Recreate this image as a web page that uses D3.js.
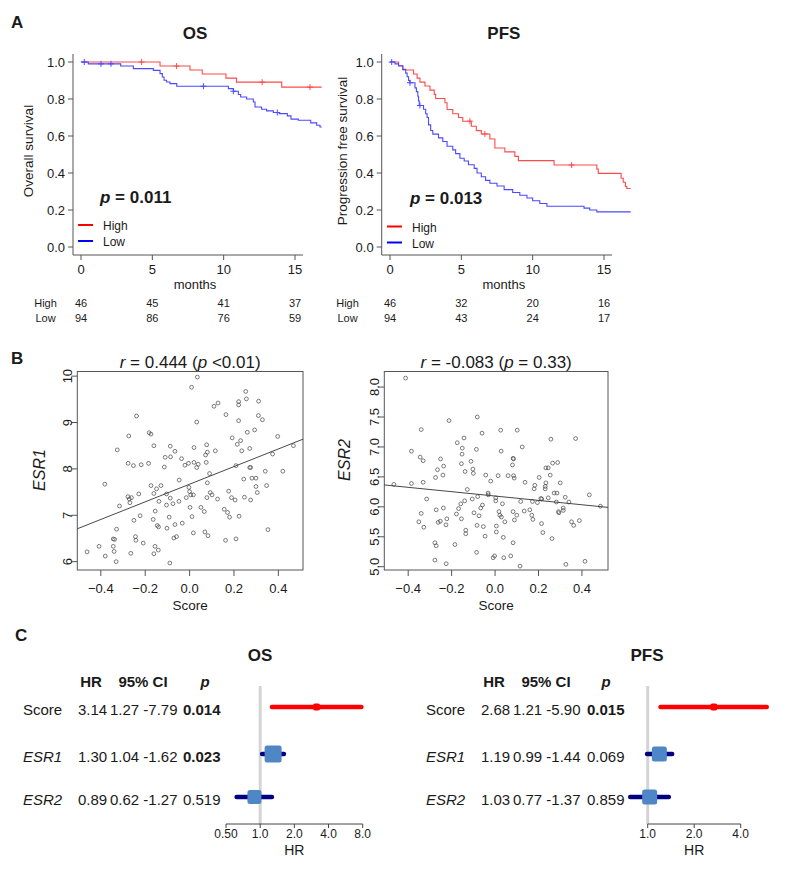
<!DOCTYPE html>
<html><head><meta charset="utf-8">
<script src="https://cdn.jsdelivr.net/npm/d3@7"></script>
<style>body{margin:0;background:#fff} svg{display:block} text{font-family:"Liberation Sans",Arial,Helvetica,sans-serif;fill:#1a1a1a}</style>
</head><body><svg id="c" width="788" height="870"></svg>
<script>
// ---------- Panel A: Kaplan-Meier data (step times in months, survival after step) ----------
const osHighTimes = [0, 5.54, 7.64, 8.5, 10.16, 10.9, 14.07];
const osHighSurv  = [1.0, 0.978, 0.957, 0.935, 0.913, 0.891, 0.864];
const osHighCens  = [4.25, 6.7, 12.7, 16.05];
const osLowTimes  = [0, 0.51, 2.78, 3.67, 5.07, 5.54, 5.70, 5.82, 6.0, 6.24, 6.71, 10.33, 10.68, 11.03, 11.19, 11.61, 12.08, 12.2, 12.66, 13.01, 13.48, 13.9, 14.46, 14.72, 15.23, 16.1, 16.52, 16.75];
const osLowSurv   = [1.0, 0.99, 0.978, 0.964, 0.955, 0.937, 0.919, 0.901, 0.892, 0.883, 0.869, 0.856, 0.842, 0.824, 0.811, 0.8, 0.784, 0.757, 0.745, 0.736, 0.727, 0.721, 0.709, 0.691, 0.685, 0.671, 0.658, 0.649];
const osLowCens   = [0.23, 1.4, 2.1, 8.58, 10.68, 13.76];
const pfsHighTimes = [0, 0.6, 0.9, 1.65, 1.9, 2.1, 2.45, 2.8, 3.1, 3.2, 3.85, 4.0, 4.4, 4.8, 5.1, 5.7, 6.05, 6.4, 7.0, 7.35, 8.05, 8.75, 9.0, 11.5, 14.5, 14.6, 16.2, 16.35, 16.5, 16.6];
const pfsHighSurv  = [1.0, 0.978, 0.957, 0.935, 0.913, 0.891, 0.870, 0.848, 0.825, 0.803, 0.78, 0.743, 0.72, 0.70, 0.68, 0.653, 0.629, 0.611, 0.584, 0.535, 0.514, 0.49, 0.467, 0.443, 0.421, 0.398, 0.372, 0.35, 0.327, 0.316];
const pfsHighCens  = [5.6, 6.65, 12.73];
const pfsLowTimes  = [0, 0.35, 0.6, 0.9, 1.1, 1.2, 1.3, 1.4, 1.75, 1.85, 1.95, 2.0, 2.05, 2.35, 2.5, 2.6, 2.7, 2.85, 3.0, 3.4, 3.7, 4.0, 4.4, 4.6, 4.9, 5.2, 5.5, 5.9, 6.1, 6.4, 6.7, 7.0, 7.5, 8.0, 8.6, 9.1, 9.6, 10.0, 10.5, 11.0, 13.6, 14.0, 14.5];
const pfsLowSurv   = [1.0, 0.99, 0.98, 0.96, 0.94, 0.92, 0.90, 0.888, 0.86, 0.84, 0.815, 0.79, 0.765, 0.745, 0.72, 0.70, 0.66, 0.63, 0.61, 0.59, 0.57, 0.545, 0.525, 0.505, 0.48, 0.465, 0.445, 0.425, 0.40, 0.38, 0.36, 0.345, 0.33, 0.31, 0.295, 0.28, 0.265, 0.25, 0.235, 0.22, 0.21, 0.20, 0.19];
const pfsLowCens   = [0.12, 1.4, 2.1];
const kmEnd = 16.87;
const kmXTicks = [0, 5, 10, 15];
const kmYTicks = [0.0, 0.2, 0.4, 0.6, 0.8, 1.0];
const riskTimes = [0, 5, 10, 15];
const osRiskHigh = [46, 45, 41, 37];
const osRiskLow  = [94, 86, 76, 59];
const pfsRiskHigh = [46, 32, 20, 16];
const pfsRiskLow  = [94, 43, 24, 17];

// ---------- Panel B: scatter data [score, expression] ----------
const esr1Points = [[-0.462,6.21],[-0.408,6.33],[-0.382,7.67],[-0.380,6.12],[-0.326,8.41],[-0.316,7.20],[-0.329,6.70],[-0.344,6.49],[-0.338,6.48],[-0.344,6.33],[-0.340,6.22],[-0.331,6.00],[-0.277,8.12],[-0.274,8.71],[-0.278,7.40],[-0.272,7.35],[-0.269,7.27],[-0.262,7.38],[-0.253,8.07],[-0.251,6.89],[-0.265,6.18],[-0.239,9.14],[-0.244,6.54],[-0.242,6.46],[-0.229,7.46],[-0.223,6.99],[-0.218,8.09],[-0.209,6.40],[-0.182,8.78],[-0.174,8.75],[-0.185,8.12],[-0.174,7.64],[-0.161,8.50],[-0.161,7.47],[-0.164,6.91],[-0.155,7.09],[-0.156,6.33],[-0.161,6.17],[-0.141,6.25],[-0.149,7.57],[-0.146,6.78],[-0.140,6.75],[-0.138,7.30],[-0.129,7.64],[-0.114,8.04],[-0.110,8.25],[-0.104,7.22],[-0.102,6.72],[-0.104,7.46],[-0.087,8.49],[-0.086,8.26],[-0.087,7.37],[-0.092,6.96],[-0.089,5.97],[-0.075,7.25],[-0.066,8.38],[-0.066,6.80],[-0.071,6.51],[-0.059,6.54],[-0.048,7.30],[-0.047,7.76],[-0.036,8.22],[-0.033,6.83],[-0.021,8.08],[-0.015,7.38],[-0.003,7.60],[-0.005,8.12],[0.000,7.51],[0.005,7.44],[0.002,7.17],[0.009,9.76],[0.011,6.97],[0.017,7.44],[0.020,8.46],[0.020,8.14],[0.017,6.62],[0.032,8.03],[0.032,9.01],[0.035,9.98],[0.039,8.10],[0.051,7.17],[0.066,7.08],[0.069,6.64],[0.075,8.14],[0.077,8.52],[0.072,8.30],[0.080,8.36],[0.078,7.38],[0.080,7.70],[0.083,6.56],[0.090,7.90],[0.093,7.49],[0.101,7.44],[0.110,9.35],[0.116,8.39],[0.128,9.42],[0.126,7.35],[0.156,7.13],[0.164,9.17],[0.162,6.46],[0.171,7.06],[0.176,7.52],[0.180,6.96],[0.192,8.67],[0.189,7.38],[0.205,7.33],[0.209,8.07],[0.209,6.49],[0.215,8.53],[0.221,9.04],[0.221,9.45],[0.221,9.38],[0.223,6.98],[0.230,8.61],[0.235,8.39],[0.244,7.78],[0.247,7.39],[0.253,9.67],[0.256,9.51],[0.260,8.79],[0.271,8.44],[0.275,8.03],[0.271,8.03],[0.275,7.33],[0.281,7.80],[0.293,8.84],[0.299,7.80],[0.299,7.62],[0.305,7.49],[0.311,9.46],[0.310,9.15],[0.328,9.06],[0.341,7.95],[0.347,7.64],[0.353,6.69],[0.374,8.32],[0.397,8.70],[0.420,7.95],[0.468,8.50]];
const esr2Points = [[-0.466,6.375],[-0.412,8.15],[-0.385,6.93],[-0.385,6.39],[-0.351,5.75],[-0.345,6.83],[-0.340,7.29],[-0.340,5.89],[-0.331,6.77],[-0.331,6.41],[-0.328,5.66],[-0.315,6.13],[-0.277,5.40],[-0.271,5.35],[-0.277,5.11],[-0.271,5.95],[-0.274,6.49],[-0.265,6.62],[-0.262,5.74],[-0.252,5.76],[-0.251,6.80],[-0.240,6.53],[-0.237,6.68],[-0.238,5.98],[-0.226,5.70],[-0.222,5.80],[-0.225,5.05],[-0.212,7.44],[-0.185,5.37],[-0.178,5.88],[-0.174,7.07],[-0.168,5.97],[-0.158,6.05],[-0.155,5.80],[-0.155,6.72],[-0.152,6.88],[-0.151,6.98],[-0.143,7.15],[-0.140,6.10],[-0.138,6.59],[-0.135,5.61],[-0.135,5.55],[-0.128,6.29],[-0.111,6.76],[-0.105,6.13],[-0.102,6.63],[-0.100,6.56],[-0.097,5.90],[-0.086,6.96],[-0.085,5.24],[-0.083,5.69],[-0.080,6.17],[-0.082,7.50],[-0.074,5.85],[-0.066,5.98],[-0.060,7.23],[-0.058,6.03],[-0.054,5.67],[-0.046,5.51],[-0.043,6.53],[-0.032,6.23],[-0.031,6.20],[-0.020,6.43],[-0.009,5.15],[-0.002,5.18],[0.003,6.10],[0.006,5.68],[0.006,5.58],[0.003,6.15],[0.014,6.52],[0.018,5.92],[0.022,5.86],[0.026,7.28],[0.028,6.93],[0.029,5.83],[0.034,6.05],[0.038,5.49],[0.040,5.15],[0.045,5.75],[0.060,6.52],[0.072,5.18],[0.080,6.70],[0.083,6.81],[0.085,6.80],[0.083,5.92],[0.085,6.52],[0.088,6.48],[0.083,5.40],[0.089,5.78],[0.100,5.86],[0.102,7.28],[0.115,5.01],[0.118,6.09],[0.125,7.00],[0.134,5.93],[0.138,6.41],[0.160,5.95],[0.169,5.86],[0.172,6.09],[0.174,5.79],[0.180,6.30],[0.183,6.36],[0.195,6.07],[0.203,6.49],[0.211,6.14],[0.214,5.72],[0.215,6.13],[0.220,5.57],[0.231,6.30],[0.231,6.34],[0.234,6.40],[0.234,6.65],[0.245,6.65],[0.245,6.15],[0.254,6.53],[0.257,7.13],[0.262,5.47],[0.265,6.73],[0.272,6.23],[0.282,6.08],[0.285,6.23],[0.288,6.74],[0.292,5.92],[0.294,5.90],[0.300,6.40],[0.314,5.94],[0.314,5.98],[0.323,6.16],[0.326,5.04],[0.340,6.08],[0.352,5.75],[0.362,5.69],[0.371,7.14],[0.388,5.77],[0.414,5.09],[0.434,6.20],[0.485,6.01]];
const esr1Fit = [7.67, 1.90];   // intercept, slope
const esr2Fit = [6.18, -0.364];
const scoreTicks = [-0.4, -0.2, 0.0, 0.2, 0.4];
const esr1Ticks = [6, 7, 8, 9, 10];
const esr2Ticks = [5.0, 5.5, 6.0, 6.5, 7.0, 7.5, 8.0];

// ---------- Panel C: forest data ----------
const forestVars = ["Score", "ESR1", "ESR2"];
const osHR = [3.14, 1.30, 0.89], osLo = [1.27, 1.04, 0.62], osHi = [7.79, 1.62, 1.27], osP = ["0.014", "0.023", "0.519"];
const pfsHR = [2.68, 1.19, 1.03], pfsLo = [1.21, 0.99, 0.77], pfsHi = [5.90, 1.44, 1.37], pfsP = ["0.015", "0.069", "0.859"];
const osHRTicks = [0.5, 1, 2, 4, 8], osHRLabels = ["0.50", "1.0", "2.0", "4.0", "8.0"];
const pfsHRTicks = [1, 2, 4], pfsHRLabels = ["1.0", "2.0", "4.0"];

// =====================================================================
const svg = d3.select("#c");
const AX = "#555";
function txt(g, x, y, s, size, opts = {}) {
  const t = g.append("text").attr("x", x).attr("y", y).attr("font-size", size)
    .attr("text-anchor", opts.anchor || "start").text(s);
  if (opts.bold) t.attr("font-weight", "bold");
  if (opts.italic) t.attr("font-style", "italic");
  if (opts.dy) t.attr("dy", opts.dy);
  return t;
}

// Panel letters
txt(svg, 11, 28, "A", 17, {bold: true});
txt(svg, 11, 364, "B", 17, {bold: true});
txt(svg, 15, 641, "C", 17, {bold: true});

// ---------- KM panel ----------
function kmPanel(o) {
  const g = svg.append("g");
  const x = d3.scaleLinear().domain([0, 15]).range([o.x0, o.x15]);
  const y = d3.scaleLinear().domain([0, 1]).range([247, 62]);
  // title
  txt(g, (o.axisX + o.axisRight) / 2 + 7, 39, o.title, 17, {bold: true, anchor: "middle"});
  // left axis
  g.append("line").attr("x1", o.axisX).attr("x2", o.axisX).attr("y1", 54).attr("y2", 255).attr("stroke", AX);
  kmYTicks.forEach(v => {
    g.append("line").attr("x1", o.axisX - 5).attr("x2", o.axisX).attr("y1", y(v)).attr("y2", y(v)).attr("stroke", AX);
    txt(g, o.axisX - 8, y(v), d3.format(".1f")(v), 13, {anchor: "end", dy: "0.35em"});
  });
  // bottom axis
  g.append("line").attr("x1", o.axisX).attr("x2", o.axisRight).attr("y1", 255).attr("y2", 255).attr("stroke", AX);
  kmXTicks.forEach(v => {
    g.append("line").attr("x1", x(v)).attr("x2", x(v)).attr("y1", 255).attr("y2", 260).attr("stroke", AX);
    txt(g, x(v), 274, String(v), 13, {anchor: "middle"});
  });
  txt(g, (o.axisX + o.axisRight) / 2 + 7, 289, "months", 13, {anchor: "middle"});
  // y label
  txt(g, 0, 0, o.ylab, 13.5, {anchor: "middle"}).attr("transform", `translate(${o.ylabX},151) rotate(-90)`);
  // curves
  const line = d3.line().x(d => x(d[0])).y(d => y(d[1])).curve(d3.curveStepAfter);
  o.groups.forEach(gr => {
    const pts = gr.t.map((t, i) => [t, gr.s[i]]);
    pts.push([kmEnd, gr.s[gr.s.length - 1]]);
    g.append("path").attr("d", line(pts)).attr("fill", "none").attr("stroke", gr.col).attr("stroke-width", 1.1);
    gr.c.forEach(ct => {
      const idx = d3.bisectRight(gr.t, ct) - 1;
      const sv = gr.s[Math.max(0, idx)];
      g.append("path").attr("d", `M${x(ct) - 3},${y(sv)}h6M${x(ct)},${y(sv) - 3}v6`).attr("stroke", gr.col).attr("stroke-width", 1);
    });
  });
  // p value
  const pt = g.append("text").attr("x", o.pX).attr("y", o.pY).attr("font-size", 17).attr("font-weight", "bold");
  pt.append("tspan").attr("font-style", "italic").text("p");
  pt.append("tspan").text(" = " + o.p);
  // legend
  [["High", "#ff0000"], ["Low", "#0000ff"]].forEach((d, i) => {
    const ly = o.legY + i * 16;
    g.append("line").attr("x1", o.legX).attr("x2", o.legX + 15).attr("y1", ly).attr("y2", ly).attr("stroke", d[1]).attr("stroke-width", 2);
    txt(g, o.legX + 25, ly + 1, d[0], 12, {dy: "0.35em"});
  });
  // risk table
  [["High", o.riskHigh, 303], ["Low", o.riskLow, 318]].forEach(r => {
    txt(g, o.riskLabX, r[2], r[0], 11, {anchor: "middle", dy: "0.35em"}).attr("fill", "#333");
    r[1].forEach((n, i) => txt(g, x(riskTimes[i]), r[2], String(n), 11, {anchor: "middle", dy: "0.35em"}).attr("fill", "#333"));
  });
}

kmPanel({title: "OS", x0: 81, x15: 295, axisX: 73, axisRight: 303, ylab: "Overall survival", ylabX: 33,
  p: "0.011", pX: 100, pY: 203, legX: 78, legY: 225, riskHigh: osRiskHigh, riskLow: osRiskLow, riskLabX: 45.5,
  groups: [{t: osHighTimes, s: osHighSurv, c: osHighCens, col: "#ff4a4a"}, {t: osLowTimes, s: osLowSurv, c: osLowCens, col: "#4a4aff"}]});
kmPanel({title: "PFS", x0: 390, x15: 604, axisX: 381.7, axisRight: 612, ylab: "Progression free survival", ylabX: 347,
  p: "0.013", pX: 410, pY: 204, legX: 387, legY: 226.5, riskHigh: pfsRiskHigh, riskLow: pfsRiskLow, riskLabX: 347.5,
  groups: [{t: pfsHighTimes, s: pfsHighSurv, c: pfsHighCens, col: "#ff4a4a"}, {t: pfsLowTimes, s: pfsLowSurv, c: pfsLowCens, col: "#4a4aff"}]});

// ---------- Scatter panel ----------
function scatterPanel(o) {
  const g = svg.append("g");
  const x = d3.scaleLinear().domain(o.xd).range([o.left, o.right]);
  const y = d3.scaleLinear().domain(o.yd).range([570, 371.5]);
  g.append("rect").attr("x", o.left).attr("y", 371.5).attr("width", o.right - o.left).attr("height", 570 - 371.5)
    .attr("fill", "none").attr("stroke", AX);
  scoreTicks.forEach(v => {
    g.append("line").attr("x1", x(v)).attr("x2", x(v)).attr("y1", 570).attr("y2", 576).attr("stroke", AX);
    txt(g, x(v), 593, d3.format(".1f")(v).replace("-", "-"), 13, {anchor: "middle"});
  });
  o.yt.forEach(v => {
    g.append("line").attr("x1", o.left - 6).attr("x2", o.left).attr("y1", y(v)).attr("y2", y(v)).attr("stroke", AX);
    txt(g, 0, 0, o.yfmt(v), 13, {anchor: "middle", dy: "0.35em"}).attr("transform", `translate(${o.left - 10},${y(v)}) rotate(-90)`);
  });
  txt(g, (o.left + o.right) / 2, 610, "Score", 13.5, {anchor: "middle"});
  txt(g, 0, 0, o.ylab, 16, {anchor: "middle", italic: true}).attr("transform", `translate(${o.ylabX},${o.ylabY}) rotate(-90)`);
  // title
  const t = g.append("text").attr("x", (o.left + o.right) / 2).attr("y", 368).attr("font-size", 17).attr("text-anchor", "middle");
  t.append("tspan").attr("font-style", "italic").text("r");
  t.append("tspan").text(" = " + o.r + " (");
  t.append("tspan").attr("font-style", "italic").text("p");
  t.append("tspan").text(o.pt + ")");
  // points
  g.selectAll("circle").data(o.pts).join("circle").attr("cx", d => x(d[0])).attr("cy", d => y(d[1])).attr("r", 1.9)
    .attr("fill", "none").attr("stroke", "#444").attr("stroke-width", 0.7);
  // fit line
  const f = v => o.fit[0] + o.fit[1] * v;
  g.append("line").attr("x1", x(o.xd[0])).attr("x2", x(o.xd[1])).attr("y1", y(f(o.xd[0]))).attr("y2", y(f(o.xd[1])))
    .attr("stroke", "#333").attr("stroke-width", 0.9);
}
scatterPanel({left: 77.3, right: 303, xd: [-0.506, 0.511], yd: [5.82, 10.1], yt: esr1Ticks, yfmt: v => String(v),
  ylab: "ESR1", ylabX: 45, ylabY: 470, r: "0.444", pt: " <0.01", pts: esr1Points, fit: esr1Fit});
scatterPanel({left: 384.3, right: 608, xd: [-0.51, 0.52], yd: [4.945, 8.26], yt: esr2Ticks, yfmt: v => d3.format(".1f")(v),
  ylab: "ESR2", ylabX: 350, ylabY: 460, r: "-0.083", pt: " = 0.33", pts: esr2Points, fit: esr2Fit});

// ---------- Forest panel ----------
function forestPanel(o) {
  const g = svg.append("g");
  const x = d3.scaleLog().base(2).domain(o.dom).range(o.range);
  const rowY = [707, 754, 797];
  txt(g, o.titleX, 661, o.title, 17, {bold: true, anchor: "middle"});
  txt(g, o.cHR, 687, "HR", 15, {bold: true, anchor: "middle"});
  txt(g, o.cCI, 687, "95% CI", 15, {bold: true, anchor: "middle"});
  txt(g, o.cP, 687, "p", 15, {bold: true, italic: true, anchor: "middle"});
  forestVars.forEach((v, i) => {
    const ty = rowY[i] + 3;
    txt(g, o.cLab, ty, v, 15, {italic: i > 0, dy: "0.35em"});
    txt(g, o.cHR - 13, ty, d3.format(".2f")(o.hr[i]), 15, {dy: "0.35em"});
    txt(g, o.cCI - 33, ty, d3.format(".2f")(o.lo[i]) + " -" + d3.format(".2f")(o.hi[i]), 15, {dy: "0.35em"});
    txt(g, o.pStart, ty, o.p[i], 15, {dy: "0.35em", bold: +o.p[i] < 0.05});
  });
  // reference line
  g.append("line").attr("x1", x(1)).attr("x2", x(1)).attr("y1", 686).attr("y2", 824).attr("stroke", "#d4d4d4").attr("stroke-width", 3);
  // axis
  g.append("line").attr("x1", o.range[0]).attr("x2", o.range[1]).attr("y1", 824).attr("y2", 824).attr("stroke", "#444");
  o.ticks.forEach((t, i) => {
    g.append("line").attr("x1", x(t)).attr("x2", x(t)).attr("y1", 824).attr("y2", 828).attr("stroke", "#444");
    txt(g, x(t), 838, o.tl[i], 12, {anchor: "middle"}).attr("fill", "#333");
  });
  txt(g, (o.range[0] + o.range[1]) / 2, 855, "HR", 14, {anchor: "middle"}).attr("fill", "#333");
  // rows
  forestVars.forEach((v, i) => {
    const yy = rowY[i];
    const col = i === 0 ? "#ff0000" : "#000080";
    g.append("line").attr("x1", x(o.lo[i])).attr("x2", x(o.hi[i])).attr("y1", yy).attr("y2", yy)
      .attr("stroke", col).attr("stroke-width", 4.5).attr("stroke-linecap", "round");
    const s = i === 0 ? 7 : o.box[i];
    g.append("rect").attr("x", x(o.hr[i]) - s / 2).attr("y", yy - s / 2).attr("width", s).attr("height", s)
      .attr("rx", i === 0 ? 2 : 2.5).attr("fill", i === 0 ? "#ff0000" : "#4f86c6");
  });
}
forestPanel({title: "OS", titleX: 260, dom: [0.5, 8], range: [226, 362.7], ticks: osHRTicks, tl: osHRLabels,
  hr: osHR, lo: osLo, hi: osHi, p: osP, cLab: 23, cHR: 91, cCI: 143, cP: 205, pStart: 183, box: [0, 17, 14]});
forestPanel({title: "PFS", titleX: 647, dom: [1, 4], range: [647.7, 740.7], ticks: pfsHRTicks, tl: pfsHRLabels,
  hr: pfsHR, lo: pfsLo, hi: pfsHi, p: pfsP, cLab: 426, cHR: 494, cCI: 546, cP: 606, pStart: 587, box: [0, 15, 15]});
</script></body></html>
